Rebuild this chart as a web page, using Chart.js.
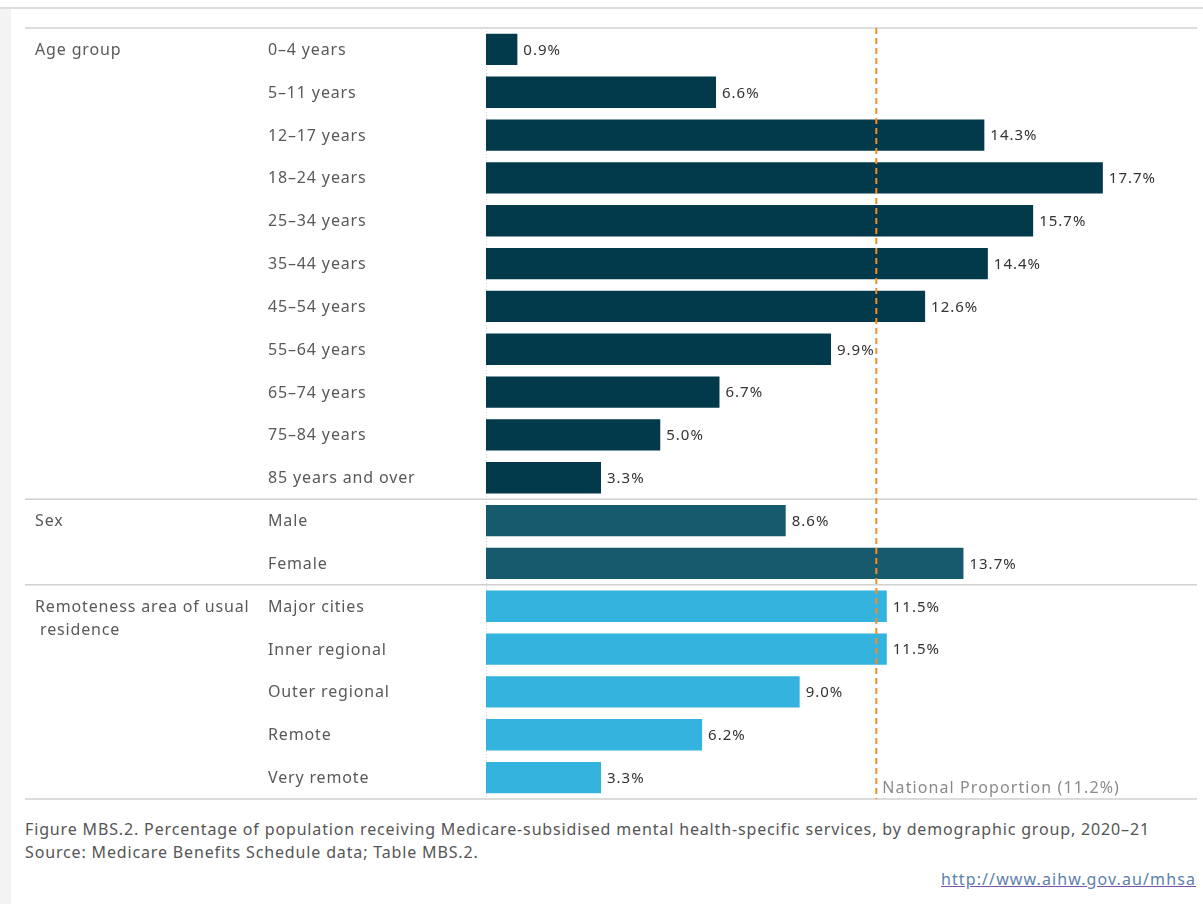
<!DOCTYPE html>
<html>
<head>
<meta charset="utf-8">
<title>MBS.2 mental health-specific services by demographic group</title>
<script src="https://cdn.jsdelivr.net/npm/chart.js@4/dist/chart.umd.min.js"></script>
<style>
  html, body { margin: 0; padding: 0; background: #fff; }
  body { width: 1203px; height: 904px; position: relative; overflow: hidden;
         font-family: "Noto Sans", "Open Sans", sans-serif; }
  #topRule { position: absolute; left: 0; top: 7px; width: 1203px; height: 2px; background: #dedede; }
  #sideStrip { position: absolute; left: 0; top: 9px; width: 11px; height: 895px; background: #f3f3f3; }
  #chartWrap { position: absolute; left: 0; top: 0; width: 1203px; height: 810px; }
  #caption { position: absolute; left: 25px; top: 818px; font-size: 16px; letter-spacing: 0.85px;
             line-height: 23px; color: #555; white-space: nowrap; }
  #link { position: absolute; right: 7px; top: 868px; font-size: 16px; letter-spacing: 1.1px; color: #5d7fae;
          text-decoration: underline; text-decoration-color: #7d55a8; }
</style>
</head>
<body>
<div id="topRule"></div>
<div id="sideStrip"></div>
<div id="chartWrap"><canvas id="chart" width="1203" height="810"></canvas></div>
<div id="caption">Figure MBS.2. Percentage of population receiving Medicare-subsidised mental health-specific services, by demographic group, 2020–21<br>Source: Medicare Benefits Schedule data; Table MBS.2.</div>
<div id="link">http://www.aihw.gov.au/mhsa</div>
<script>
// Categories, grouped: 11 age groups, 2 sexes, 5 remoteness areas
const categories = [
  '0–4 years', '5–11 years', '12–17 years', '18–24 years', '25–34 years',
  '35–44 years', '45–54 years', '55–64 years', '65–74 years', '75–84 years',
  '85 years and over',
  'Male', 'Female',
  'Major cities', 'Inner regional', 'Outer regional', 'Remote', 'Very remote'
];
// Percentage of population receiving services
const values = [0.9, 6.6, 14.3, 17.7, 15.7, 14.4, 12.6, 9.9, 6.7, 5.0, 3.3,
                8.6, 13.7,
                11.5, 11.5, 9.0, 6.2, 3.3];
const groupNames = ['Age group', 'Sex', ['Remoteness area of usual', ' residence']];
const groupSizes = [11, 2, 5];
const groupColors = ['#023a4b', '#175a6d', '#33b3dd'];
const nationalProportion = 11.2;
const nationalLabel = 'National Proportion (11.2%)';

const FONT = '"Noto Sans", "Open Sans", sans-serif';

// group index for each category
const groupIndex = [];
groupSizes.forEach((n, g) => { for (let i = 0; i < n; i++) groupIndex.push(g); });

const labelsPlugin = {
  id: 'tableLabels',
  beforeDatasetsDraw(chart) {
    const { ctx, chartArea, scales: { x } } = chart;
    ctx.save();
    // zero axis, dotted
    const zx = Math.round(x.getPixelForValue(0)) + 0.5;
    ctx.strokeStyle = '#d4d4d4';
    ctx.lineWidth = 1;
    ctx.setLineDash([1, 2]);
    ctx.beginPath();
    ctx.moveTo(zx, chartArea.top);
    ctx.lineTo(zx, chartArea.bottom);
    ctx.stroke();
    ctx.restore();
  },
  afterDatasetsDraw(chart) {
    const { ctx, chartArea, scales: { x, y } } = chart;
    const half = (y.getPixelForValue(1) - y.getPixelForValue(0)) / 2;
    ctx.save();

    // row separators between groups, plus top and bottom rules
    ctx.strokeStyle = '#d0d0d0';
    ctx.lineWidth = 1.5;
    const rules = [chartArea.top];
    let acc = 0;
    groupSizes.forEach(n => { acc += n; rules.push(y.getPixelForValue(acc - 1) + half); });
    rules.forEach(py => {
      ctx.beginPath();
      ctx.moveTo(25, py);
      ctx.lineTo(1197, py);
      ctx.stroke();
    });

    // category labels and value labels
    ctx.textBaseline = 'middle';
    ctx.textAlign = 'left';
    categories.forEach((c, i) => {
      const py = y.getPixelForValue(i) + 1;
      ctx.font = '16px ' + FONT;
      ctx.letterSpacing = '0.85px';
      ctx.fillStyle = '#595959';
      ctx.fillText(c, 268, py);
      ctx.font = '15px ' + FONT;
      ctx.letterSpacing = '1px';
      ctx.fillStyle = '#333';
      ctx.fillText(values[i].toFixed(1) + '%', x.getPixelForValue(values[i]) + 6, py);
    });

    // group labels next to the first row of each group
    let first = 0;
    ctx.font = '16px ' + FONT;
    ctx.letterSpacing = '0.85px';
    ctx.fillStyle = '#595959';
    groupSizes.forEach((n, g) => {
      const py = y.getPixelForValue(first) + 1;
      const lines = Array.isArray(groupNames[g]) ? groupNames[g] : [groupNames[g]];
      lines.forEach((ln, k) => ctx.fillText(ln, 35, py + k * 23));
      first += n;
    });

    // national proportion reference line
    const nx = x.getPixelForValue(nationalProportion);
    ctx.strokeStyle = '#f28e2b';
    ctx.lineWidth = 2;
    ctx.setLineDash([6, 4]);
    ctx.beginPath();
    ctx.moveTo(nx, chartArea.top);
    ctx.lineTo(nx, chartArea.bottom);
    ctx.stroke();
    ctx.setLineDash([]);
    ctx.font = '16px ' + FONT;
    ctx.letterSpacing = '1.1px';
    ctx.fillStyle = '#8a8a8a';
    ctx.fillText(nationalLabel, nx + 6, chartArea.bottom - 11);
    ctx.restore();
  }
};

new Chart(document.getElementById('chart'), {
  type: 'bar',
  data: {
    labels: categories,
    datasets: [{
      data: values,
      backgroundColor: groupIndex.map(g => groupColors[g]),
      borderWidth: 0,
      categoryPercentage: 1,
      barPercentage: 0.73
    }]
  },
  options: {
    indexAxis: 'y',
    responsive: false,
    animation: false,
    devicePixelRatio: 1,
    layout: { padding: { left: 486, right: 20, top: 28, bottom: 11 } },
    plugins: { legend: { display: false }, tooltip: { enabled: false } },
    scales: {
      x: { min: 0, max: 20, display: false },
      y: { display: false, offset: true }
    }
  },
  plugins: [labelsPlugin]
});
</script>
</body>
</html>
